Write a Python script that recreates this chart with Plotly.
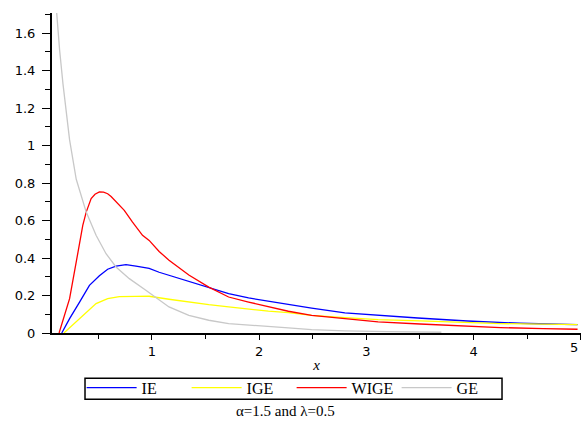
import plotly.graph_objects as go

# ---- data ----
ie_x = [0.16, 0.233, 0.326, 0.418, 0.511, 0.588, 0.666, 0.759, 0.852, 0.975, 1.068, 1.16, 1.345,
        1.531, 1.716, 1.902, 2.087, 2.273, 2.49, 2.80, 3.11, 3.48, 3.94, 4.25, 4.43, 4.7, 4.97]
ie_y = [0.0, 0.077, 0.165, 0.254, 0.305, 0.340, 0.357, 0.365, 0.357, 0.345, 0.324, 0.308, 0.276,
        0.245, 0.21, 0.187, 0.169, 0.151, 0.133, 0.107, 0.094, 0.08, 0.064, 0.055, 0.052, 0.048, 0.045]

ige_x = [0.18, 0.295, 0.388, 0.48, 0.588, 0.697, 0.852, 0.975, 1.16, 1.345, 1.531, 1.716, 1.902,
         2.087, 2.273, 2.49, 2.80, 3.11, 3.5, 3.94, 4.25, 4.97]
ige_y = [0.0, 0.059, 0.112, 0.157, 0.183, 0.194, 0.195, 0.196, 0.18, 0.165, 0.151, 0.139, 0.126,
         0.117, 0.109, 0.094, 0.082, 0.071, 0.065, 0.055, 0.05, 0.045]

wige_x = [0.135, 0.233, 0.295, 0.356, 0.388, 0.434, 0.47, 0.511, 0.55, 0.588, 0.62, 0.666, 0.743,
          0.82, 0.913, 0.975, 1.068, 1.16, 1.345, 1.531, 1.716, 1.902, 2.087, 2.273, 2.49, 2.80,
          3.11, 3.5, 3.94, 4.25, 4.65, 4.97]
wige_y = [0.0, 0.183, 0.379, 0.574, 0.645, 0.717, 0.740, 0.752, 0.751, 0.743, 0.728, 0.699, 0.654,
          0.592, 0.521, 0.494, 0.435, 0.388, 0.309, 0.245, 0.192, 0.165, 0.139, 0.116, 0.094, 0.077,
          0.059, 0.048, 0.036, 0.029, 0.023, 0.02]

ge_x = [0.1, 0.109, 0.14, 0.171, 0.202, 0.233, 0.295, 0.388, 0.48, 0.573, 0.666, 0.79, 0.944, 1.068,
        1.16, 1.345, 1.531, 1.716, 1.902, 2.087, 2.273, 2.49, 2.8, 3.2, 3.7]
ge_y = [1.80, 1.73, 1.51, 1.33, 1.19, 1.03, 0.82, 0.645, 0.521, 0.423, 0.352, 0.29, 0.228, 0.178,
        0.139, 0.094, 0.068, 0.05, 0.041, 0.032, 0.027, 0.018, 0.011, 0.007, 0.004]

series = [
    ("IE", ie_x, ie_y, "rgb(0,0,255)"),
    ("IGE", ige_x, ige_y, "rgb(255,255,0)"),
    ("WIGE", wige_x, wige_y, "rgb(255,0,0)"),
    ("GE", ge_x, ge_y, "rgb(200,200,200)"),
]

x_ticks = [1, 2, 3, 4, 5]
y_ticks = [0, 0.2, 0.4, 0.6, 0.8, 1, 1.2, 1.4, 1.6]
y_ticktext = ["0", "0.2", "0.4", "0.6", "0.8", "1", "1.2", "1.4", "1.6"]
caption = "α=1.5 and λ=0.5"

fig = go.Figure()
for name, xs, ys, col in series:
    fig.add_trace(go.Scatter(x=xs, y=ys, mode="lines", name=name,
                             line=dict(color=col, width=1.3)))

tick_font = dict(family="DejaVu Sans", size=13, color="black")
serif = "Liberation Serif"

fig.update_layout(
    width=581, height=421,
    margin=dict(l=52, r=0, t=13, b=88, autoexpand=False),
    paper_bgcolor="white", plot_bgcolor="white",
    showlegend=True,
    legend=dict(orientation="h", x=0.056, y=-0.118, xanchor="left", yanchor="top",
                borderwidth=0, font=dict(family=serif, size=16, color="black"),
                itemwidth=50, entrywidth=40, tracegroupgap=0, bgcolor="rgba(0,0,0,0)"),
    xaxis=dict(range=[0.069, 5.002], showgrid=False, zeroline=False, showline=True,
               linecolor="black", linewidth=2, ticks="outside", ticklen=5, tickwidth=1,
               tickcolor="black", tickvals=x_ticks, tickfont=tick_font, automargin=False,
               ticklabelstandoff=0,
               minor=dict(tickvals=[0.5, 1.5, 2.5, 3.5, 4.5], ticklen=4, ticks="outside",
                          tickcolor="black", showgrid=False),
               title=dict(text="<i>x</i>", font=dict(family=serif, size=15, color="black"),
                          standoff=2)),
    yaxis=dict(range=[0, 1.707], showgrid=False, zeroline=False, showline=True,
               linecolor="black", linewidth=2, ticks="outside", ticklen=8, tickwidth=1,
               tickcolor="black", tickvals=y_ticks, ticktext=y_ticktext,
               tickfont=tick_font, ticklabelstandoff=4, automargin=False,
               minor=dict(tickvals=[0.1, 0.3, 0.5, 0.7, 0.9, 1.1, 1.3, 1.5, 1.7], ticklen=5,
                          ticks="outside", tickcolor="black", showgrid=False)),
    shapes=[dict(type="rect", xref="paper", yref="paper", x0=0.0624, x1=0.8507,
                 y0=-0.2072, y1=-0.1416, line=dict(color="black", width=1.5),
                 fillcolor="rgba(0,0,0,0)", layer="below")],
    annotations=[
        dict(text=caption, xref="paper", yref="paper", x=0.442, y=-0.245,
             xanchor="center", yanchor="middle", showarrow=False,
             font=dict(family=serif, size=15, color="black")),
        dict(text=str(x_ticks[-1]), xref="x", yref="paper", x=x_ticks[-1], y=0,
             xanchor="right", yanchor="top", yshift=-5, xshift=-1, showarrow=False,
             font=tick_font),
    ],
)

fig.write_html("out.html", post_script="document.body.style.margin='0';",
               config={"displayModeBar": False})
